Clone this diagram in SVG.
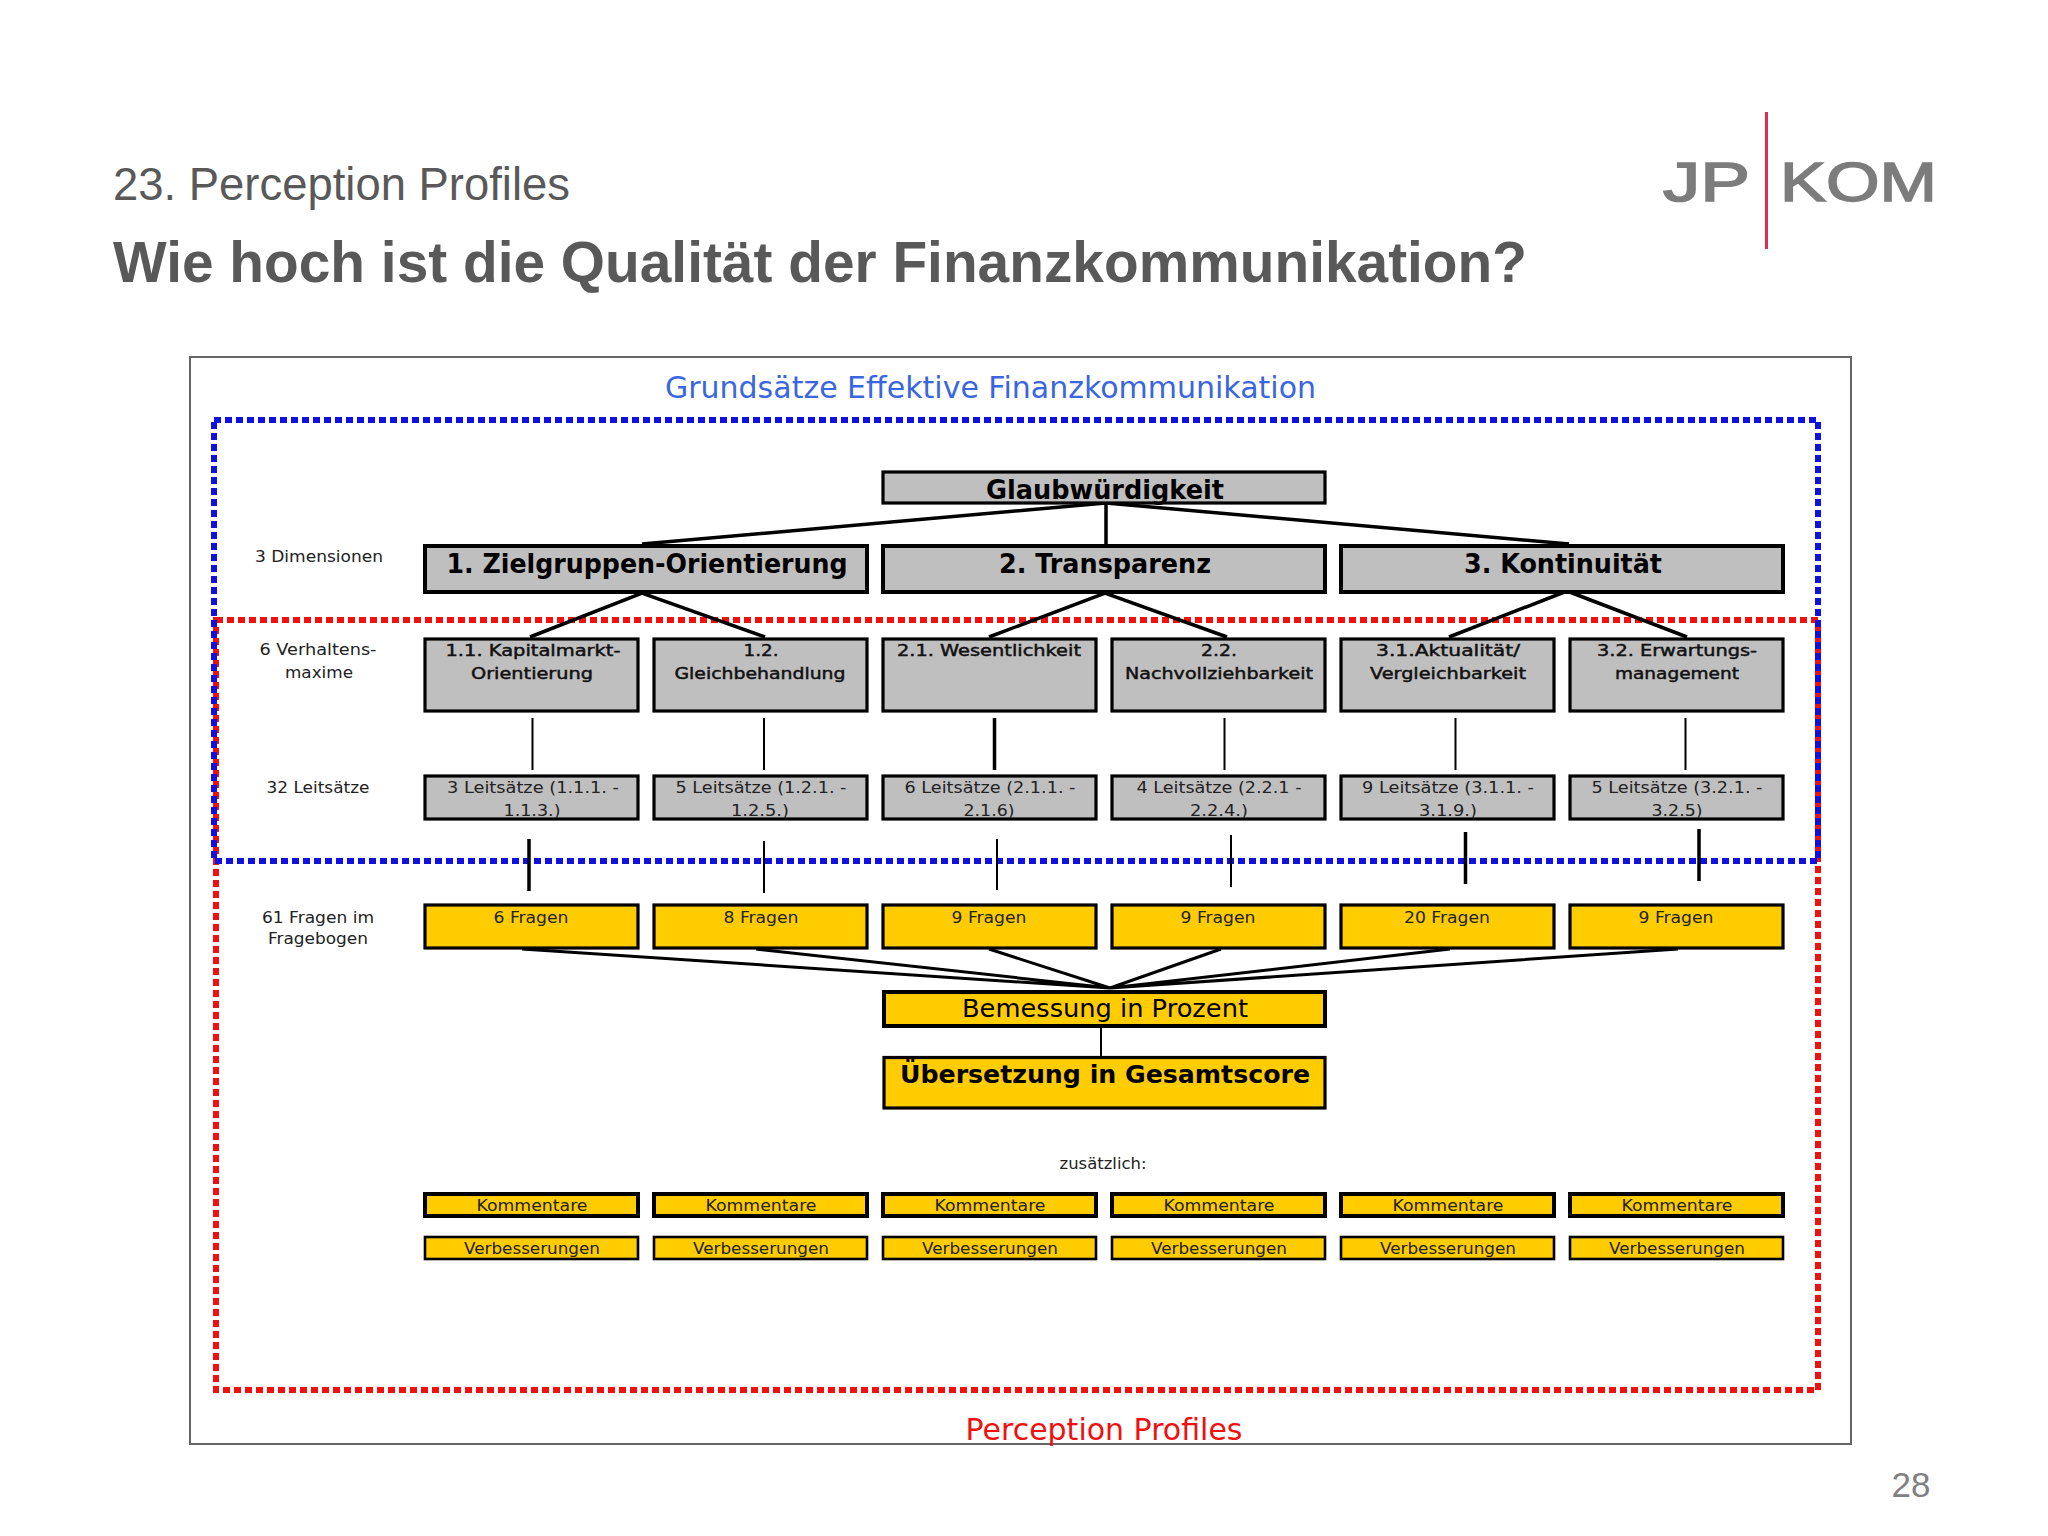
<svg xmlns="http://www.w3.org/2000/svg" width="2048" height="1536" viewBox="0 0 2048 1536">
<style>
text{font-family:"DejaVu Sans","Liberation Sans",sans-serif;text-anchor:middle;fill:#000}
.h{font-family:"Liberation Sans",Arial,sans-serif;text-anchor:start;fill:#595959}
.logo{font-family:"Liberation Sans",Arial,sans-serif;text-anchor:start;fill:#7c7c7c;stroke:#7c7c7c;stroke-width:1.6px;font-size:56px}
.g{fill:#c0bfc0;stroke:#000}
.y{fill:#ffcc00;stroke:#000}
.t4{stroke-width:4}.t3{stroke-width:3.2}.t2{stroke-width:2.6}
.b{font-weight:bold}
.s{font-size:15px;fill:#222}
.m{font-size:15px;fill:#111;stroke:#111;stroke-width:.45px}
.c{stroke:#000;fill:none;stroke-width:3}
.thick{stroke-width:3.5}
.thin{stroke-width:2}
.dash{fill:none;stroke-width:6;stroke-dasharray:7 4}
</style>
<rect width="2048" height="1536" fill="#fff"/>
<g id="header">
<text class="h" x="113" y="200" font-size="46" textLength="457" lengthAdjust="spacingAndGlyphs">23. Perception Profiles</text>
<text class="h" x="113" y="282" font-size="58" font-weight="bold" textLength="1414" lengthAdjust="spacingAndGlyphs">Wie hoch ist die Qualität der Finanzkommunikation?</text>
<text x="1911" y="1497" font-size="35" style="font-family:'Liberation Sans',sans-serif;fill:#808080">28</text>
</g>
<g id="logo">
<rect x="1765" y="112" width="3" height="137" fill="#d9304f"/>
<text class="logo" x="1663" y="201" textLength="87" lengthAdjust="spacingAndGlyphs">JP</text>
<text class="logo" x="1780" y="201" textLength="157" lengthAdjust="spacingAndGlyphs">KOM</text>
</g>
<rect id="frame" x="190" y="357" width="1661" height="1087" fill="#fff" stroke="#666" stroke-width="2"/>
<g id="regions">
<rect class="dash" x="216" y="620" width="1602" height="770" stroke="#f01010"/>
<rect class="dash" x="214" y="420" width="1604" height="441" stroke="#1010e0"/>
<text x="990.5" y="398" font-size="30" textLength="651" lengthAdjust="spacingAndGlyphs" style="fill:#3a66e0">Grundsätze Effektive Finanzkommunikation</text>
<text x="1104" y="1440" font-size="30" textLength="277" lengthAdjust="spacingAndGlyphs" style="fill:#f01010">Perception Profiles</text>
</g>
<g id="connectors">
<path class="c thick" d="M642 544L1106 503L1569 544M1106 503V544"/>
<path class="c thick" d="M530 637L642 593L765 637M989 637L1105 593L1227 637M1449 637L1567 591L1687 637"/>
<path class="c thin" d="M532.500 718V770M764 718V770M1224.500 718V770M1455.500 718V770M1685.500 718V770"/>
<path class="c thick" d="M994.500 718V770"/>
<path class="c thick" d="M529 839V891M1465.500 832V884M1699 829V881"/>
<path class="c thin" d="M764 841V893M997 839V890M1231 835V887"/>
<path class="c" d="M522 949L1110 988M756 949L1110 988M989 949L1110 988M1221 949L1110 988M1450 949L1110 988M1678 949L1110 988"/>
<path class="c thin" d="M1101 1026V1056"/>
</g>
<g id="row-labels">
<text class="s" x="319" y="562" textLength="128" lengthAdjust="spacingAndGlyphs">3 Dimensionen</text>
<text class="s" x="318" y="655" textLength="117" lengthAdjust="spacingAndGlyphs">6 Verhaltens-</text>
<text class="s" x="319" y="678" textLength="68" lengthAdjust="spacingAndGlyphs">maxime</text>
<text class="s" x="318" y="793" textLength="103" lengthAdjust="spacingAndGlyphs">32 Leitsätze</text>
<text class="s" x="318" y="923" textLength="112" lengthAdjust="spacingAndGlyphs">61 Fragen im</text>
<text class="s" x="318" y="944" textLength="100" lengthAdjust="spacingAndGlyphs">Fragebogen</text>
<text class="s" x="1103" y="1169" textLength="87" lengthAdjust="spacingAndGlyphs">zusätzlich:</text>
</g>
<g id="glaubwuerdigkeit"><rect class="g t3" x="883" y="472" width="442" height="31"/><text class="b" x="1105" y="499" font-size="26" textLength="238" lengthAdjust="spacingAndGlyphs">Glaubwürdigkeit</text></g>
<g id="dim1"><rect class="g t4" x="425" y="546" width="442" height="46"/><text class="b" x="647" y="573" font-size="26" textLength="401" lengthAdjust="spacingAndGlyphs">1. Zielgruppen-Orientierung</text></g>
<g id="dim2"><rect class="g t4" x="883" y="546" width="442" height="46"/><text class="b" x="1105" y="573" font-size="26" textLength="212" lengthAdjust="spacingAndGlyphs">2. Transparenz</text></g>
<g id="dim3"><rect class="g t4" x="1341" y="546" width="442" height="46"/><text class="b" x="1563" y="573" font-size="26" textLength="198" lengthAdjust="spacingAndGlyphs">3. Kontinuität</text></g>

<g id="m11"><rect class="g t3" x="425" y="639" width="213" height="72"/><text class="m" x="533" y="656" textLength="175" lengthAdjust="spacingAndGlyphs">1.1. Kapitalmarkt-</text><text class="m" x="532" y="679" textLength="122" lengthAdjust="spacingAndGlyphs">Orientierung</text></g>
<g id="m12"><rect class="g t3" x="654" y="639" width="213" height="72"/><text class="m" x="761" y="656" textLength="35" lengthAdjust="spacingAndGlyphs">1.2.</text><text class="m" x="760" y="679" textLength="171" lengthAdjust="spacingAndGlyphs">Gleichbehandlung</text></g>
<g id="m21"><rect class="g t3" x="883" y="639" width="213" height="72"/><text class="m" x="989" y="656" textLength="184" lengthAdjust="spacingAndGlyphs">2.1. Wesentlichkeit</text></g>
<g id="m22"><rect class="g t3" x="1112" y="639" width="213" height="72"/><text class="m" x="1219" y="656" textLength="36" lengthAdjust="spacingAndGlyphs">2.2.</text><text class="m" x="1219" y="679" textLength="188" lengthAdjust="spacingAndGlyphs">Nachvollziehbarkeit</text></g>
<g id="m31"><rect class="g t3" x="1341" y="639" width="213" height="72"/><text class="m" x="1448" y="656" textLength="144" lengthAdjust="spacingAndGlyphs">3.1.Aktualität/</text><text class="m" x="1448" y="679" textLength="156" lengthAdjust="spacingAndGlyphs">Vergleichbarkeit</text></g>
<g id="m32"><rect class="g t3" x="1570" y="639" width="213" height="72"/><text class="m" x="1677" y="656" textLength="160" lengthAdjust="spacingAndGlyphs">3.2. Erwartungs-</text><text class="m" x="1677" y="679" textLength="124" lengthAdjust="spacingAndGlyphs">management</text></g>

<g id="l11"><rect class="g t3" x="425" y="776" width="213" height="43"/><text class="s" x="533" y="793" textLength="172" lengthAdjust="spacingAndGlyphs">3 Leitsätze (1.1.1. -</text><text class="s" x="532" y="816" textLength="57" lengthAdjust="spacingAndGlyphs">1.1.3.)</text></g>
<g id="l12"><rect class="g t3" x="654" y="776" width="213" height="43"/><text class="s" x="761" y="793" textLength="171" lengthAdjust="spacingAndGlyphs">5 Leitsätze (1.2.1. -</text><text class="s" x="760" y="816" textLength="58" lengthAdjust="spacingAndGlyphs">1.2.5.)</text></g>
<g id="l21"><rect class="g t3" x="883" y="776" width="213" height="43"/><text class="s" x="990" y="793" textLength="171" lengthAdjust="spacingAndGlyphs">6 Leitsätze (2.1.1. -</text><text class="s" x="989" y="816" textLength="51" lengthAdjust="spacingAndGlyphs">2.1.6)</text></g>
<g id="l22"><rect class="g t3" x="1112" y="776" width="213" height="43"/><text class="s" x="1219" y="793" textLength="165" lengthAdjust="spacingAndGlyphs">4 Leitsätze (2.2.1 -</text><text class="s" x="1219" y="816" textLength="58" lengthAdjust="spacingAndGlyphs">2.2.4.)</text></g>
<g id="l31"><rect class="g t3" x="1341" y="776" width="213" height="43"/><text class="s" x="1448" y="793" textLength="172" lengthAdjust="spacingAndGlyphs">9 Leitsätze (3.1.1. -</text><text class="s" x="1448" y="816" textLength="58" lengthAdjust="spacingAndGlyphs">3.1.9.)</text></g>
<g id="l32"><rect class="g t3" x="1570" y="776" width="213" height="43"/><text class="s" x="1677" y="793" textLength="171" lengthAdjust="spacingAndGlyphs">5 Leitsätze (3.2.1. -</text><text class="s" x="1677" y="816" textLength="51" lengthAdjust="spacingAndGlyphs">3.2.5)</text></g>

<g id="f1"><rect class="y t3" x="425" y="905" width="213" height="43"/><text class="s" x="531" y="923" textLength="75" lengthAdjust="spacingAndGlyphs">6 Fragen</text></g>
<g id="f2"><rect class="y t3" x="654" y="905" width="213" height="43"/><text class="s" x="761" y="923" textLength="75" lengthAdjust="spacingAndGlyphs">8 Fragen</text></g>
<g id="f3"><rect class="y t3" x="883" y="905" width="213" height="43"/><text class="s" x="989" y="923" textLength="75" lengthAdjust="spacingAndGlyphs">9 Fragen</text></g>
<g id="f4"><rect class="y t3" x="1112" y="905" width="213" height="43"/><text class="s" x="1218" y="923" textLength="75" lengthAdjust="spacingAndGlyphs">9 Fragen</text></g>
<g id="f5"><rect class="y t3" x="1341" y="905" width="213" height="43"/><text class="s" x="1447" y="923" textLength="86" lengthAdjust="spacingAndGlyphs">20 Fragen</text></g>
<g id="f6"><rect class="y t3" x="1570" y="905" width="213" height="43"/><text class="s" x="1676" y="923" textLength="75" lengthAdjust="spacingAndGlyphs">9 Fragen</text></g>

<g id="bemessung"><rect class="y t4" x="884" y="992" width="441" height="34"/><text x="1105" y="1017" font-size="25" textLength="286" lengthAdjust="spacingAndGlyphs">Bemessung in Prozent</text></g>
<g id="uebersetzung"><rect class="y t3" x="884" y="1057.500" width="441" height="50.500"/><text class="b" x="1105" y="1083" font-size="24" textLength="410" lengthAdjust="spacingAndGlyphs">Übersetzung in Gesamtscore</text></g>

<g id="k1"><rect class="y t4" x="425" y="1194" width="213" height="22"/><text class="s" x="532" y="1211" textLength="111" lengthAdjust="spacingAndGlyphs">Kommentare</text></g>
<g id="k2"><rect class="y t4" x="654" y="1194" width="213" height="22"/><text class="s" x="761" y="1211" textLength="111" lengthAdjust="spacingAndGlyphs">Kommentare</text></g>
<g id="k3"><rect class="y t4" x="883" y="1194" width="213" height="22"/><text class="s" x="990" y="1211" textLength="111" lengthAdjust="spacingAndGlyphs">Kommentare</text></g>
<g id="k4"><rect class="y t4" x="1112" y="1194" width="213" height="22"/><text class="s" x="1219" y="1211" textLength="111" lengthAdjust="spacingAndGlyphs">Kommentare</text></g>
<g id="k5"><rect class="y t4" x="1341" y="1194" width="213" height="22"/><text class="s" x="1448" y="1211" textLength="111" lengthAdjust="spacingAndGlyphs">Kommentare</text></g>
<g id="k6"><rect class="y t4" x="1570" y="1194" width="213" height="22"/><text class="s" x="1677" y="1211" textLength="111" lengthAdjust="spacingAndGlyphs">Kommentare</text></g>

<g id="v1"><rect class="y t2" x="425" y="1237" width="213" height="22"/><text class="s" x="532" y="1254" textLength="136" lengthAdjust="spacingAndGlyphs">Verbesserungen</text></g>
<g id="v2"><rect class="y t2" x="654" y="1237" width="213" height="22"/><text class="s" x="761" y="1254" textLength="136" lengthAdjust="spacingAndGlyphs">Verbesserungen</text></g>
<g id="v3"><rect class="y t2" x="883" y="1237" width="213" height="22"/><text class="s" x="990" y="1254" textLength="136" lengthAdjust="spacingAndGlyphs">Verbesserungen</text></g>
<g id="v4"><rect class="y t2" x="1112" y="1237" width="213" height="22"/><text class="s" x="1219" y="1254" textLength="136" lengthAdjust="spacingAndGlyphs">Verbesserungen</text></g>
<g id="v5"><rect class="y t2" x="1341" y="1237" width="213" height="22"/><text class="s" x="1448" y="1254" textLength="136" lengthAdjust="spacingAndGlyphs">Verbesserungen</text></g>
<g id="v6"><rect class="y t2" x="1570" y="1237" width="213" height="22"/><text class="s" x="1677" y="1254" textLength="136" lengthAdjust="spacingAndGlyphs">Verbesserungen</text></g>
</svg>
